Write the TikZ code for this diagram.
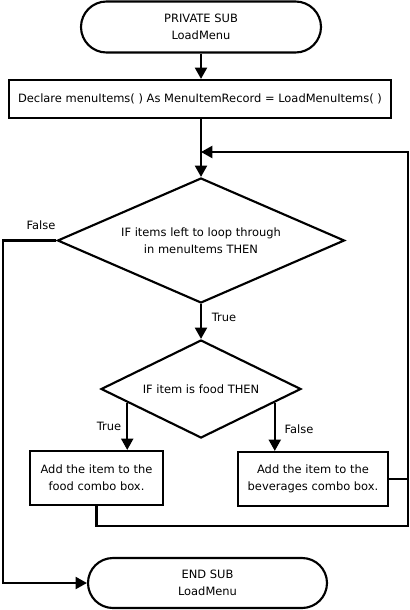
\documentclass[tikz,border=0pt]{standalone}
\usepackage{fontspec}
\setmainfont{DejaVu Sans}
\usetikzlibrary{shapes.geometric,shapes.misc,arrows.meta,calc}
\begin{document}
\begin{tikzpicture}[x=0.75pt,y=-0.75pt,
  font=\fontsize{8.6}{12.8}\selectfont,
  line/.style={line width=1.6pt},
  arrowline/.style={line width=1.6pt,-{Triangle[length=8.5pt,width=9pt]}},
  term/.style={draw,line width=1.6pt,rounded rectangle,inner sep=0pt,align=center},
  proc/.style={draw,line width=1.6pt,rectangle,inner sep=0pt,align=center},
  dec/.style={draw,line width=1.6pt,diamond,inner sep=0pt,shape aspect=2.3,align=center},
  lbl/.style={inner sep=0pt}]
\useasboundingbox (0,0) rectangle (410,610);

\node[term, minimum width=180pt, minimum height=38.25pt] (start) at (201,27) {PRIVATE SUB\\LoadMenu};
\node[proc, minimum width=286.5pt, minimum height=28.5pt] (decl) at (200,99) {Declare menuItems( ) As MenuItemRecord = LoadMenuItems( )};
\node[dec, minimum width=215.25pt, minimum height=93.75pt] (d1) at (201,240.5) {IF items left to loop through\\in menuItems THEN};
\node[dec, minimum width=150pt, minimum height=73.5pt] (d2) at (201,389) {IF item is food THEN};
\node[proc, minimum width=99.75pt, minimum height=40.5pt] (food) at (96.5,478) {Add the item to the\\food combo box.};
\node[proc, minimum width=112.5pt, minimum height=40.5pt] (bev) at (313,479) {Add the item to the\\beverages combo box.};
\node[term, minimum width=179.25pt, minimum height=37.5pt] (end) at (207.5,583) {END SUB\\LoadMenu};

\coordinate (merge) at (201,152);
\coordinate (rt) at (408,152);
\coordinate (rb) at (408,526);
\coordinate (fl) at (3,240.5);
\coordinate (pl) at ($(d2.west)!0.27!(d2.south)$);
\coordinate (pr) at ($(d2.east)!0.27!(d2.south)$);

\draw[arrowline] (start.south) -- (decl.north -| start.south);
\draw[arrowline] (decl.south -| d1.north) -- (d1.north);
\draw[arrowline] (food.south) |- (rb) -- (rt) -- (merge);
\draw[line] (bev.east) -- (bev.east -| rb);
\draw[arrowline] (d1.west) -- (fl) |- (end.west);
\draw[arrowline] (d1.south) -- (d2.north);
\draw[arrowline] (pl) -- (pl |- food.north);
\draw[arrowline] (pr) -- (pr |- bev.north);

\node[lbl] (lf1) at (41,225) {False};
\node[lbl] (lt1) at (224,317) {True};
\node[lbl] (lt2) at (109,426) {True};
\node[lbl] (lf2) at (299,429) {False};
\end{tikzpicture}
\end{document}
